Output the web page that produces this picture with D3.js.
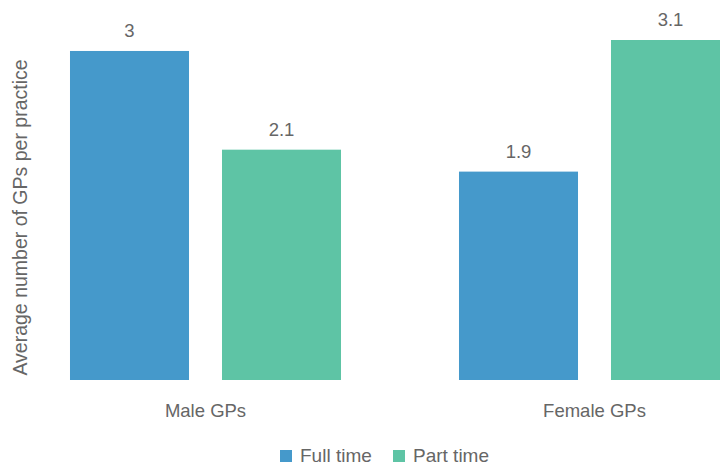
<!DOCTYPE html>
<html><head><meta charset="utf-8">
<script src="https://cdn.jsdelivr.net/npm/d3@7"></script>
<style>body{margin:0;background:#fff;} svg{display:block;} text{font-family:"Liberation Sans",Arial,Helvetica,sans-serif;fill:#666;}</style>
</head><body><svg id="c" width="720" height="466"></svg>
<script>
const categories = ["Male GPs", "Female GPs"];
const seriesNames = ["Full time", "Part time"];
const fullTime = [3, 1.9];
const partTime = [2.1, 3.1];
const valueLabels = [["3", "2.1"], ["1.9", "3.1"]];
const colors = ["#4599cb", "#5ec4a5"];

const svg = d3.select("#c");
const x0 = d3.scaleBand().domain(categories).range([11, 789]).paddingInner(0.3033).paddingOuter(0.15165);
const x1 = d3.scaleBand().domain(seriesNames).range([0, x0.bandwidth()]).paddingInner(0.217).paddingOuter(0);
const y = d3.scaleLinear().domain([0, 3.1]).range([380, 40]);

const data = categories.map((c, i) => ({cat: c, vals: [fullTime[i], partTime[i]], labels: valueLabels[i]}));

const g = svg.selectAll("g.grp").data(data).join("g").attr("class", "grp")
  .attr("transform", d => `translate(${x0(d.cat)},0)`);
g.selectAll("rect").data(d => d.vals.map((v, j) => ({s: seriesNames[j], v, j}))).join("rect")
  .attr("x", d => x1(d.s)).attr("width", x1.bandwidth())
  .attr("y", d => y(d.v)).attr("height", d => y(0) - y(d.v))
  .attr("fill", d => colors[d.j]);
g.selectAll("text.val").data(d => d.vals.map((v, j) => ({s: seriesNames[j], v, j, l: d.labels[j]}))).join("text")
  .attr("class", "val").attr("x", d => x1(d.s) + x1.bandwidth() / 2).attr("y", d => y(d.v) - 14)
  .attr("text-anchor", "middle").attr("font-size", 18.5).text(d => d.l);

const xAxis = svg.append("g").attr("transform", "translate(0,380)").call(d3.axisBottom(x0).tickSize(0).tickPadding(24));
xAxis.select(".domain").remove();
xAxis.selectAll("text").attr("font-size", 18.5).style("fill", "#666").style("font-family", '"Liberation Sans",Arial,sans-serif');

svg.append("text").attr("transform", "translate(27,217.5) rotate(-90)").attr("text-anchor", "middle")
  .attr("font-size", 19.5).text("Average number of GPs per practice");

const legX = [280, 393];
const leg = svg.selectAll("g.leg").data(seriesNames).join("g").attr("class", "leg")
  .attr("transform", (d, i) => `translate(${legX[i]},450)`);
leg.append("rect").attr("width", 12).attr("height", 12).attr("fill", (d, i) => colors[i]);
leg.append("text").attr("x", 20).attr("y", 12).attr("font-size", 19).text(d => d);
</script></body></html>
